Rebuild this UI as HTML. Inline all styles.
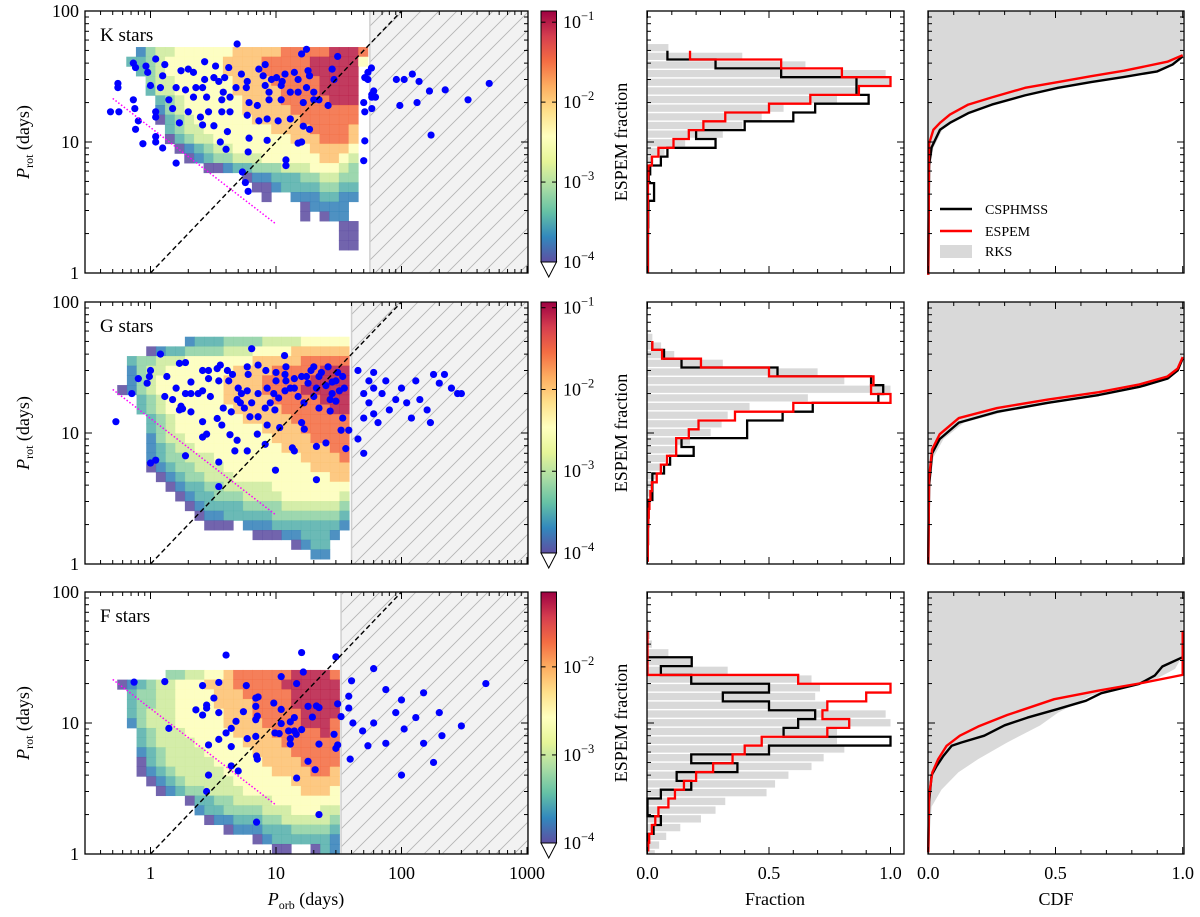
<!DOCTYPE html>
<html><head><meta charset="utf-8"><style>
html,body{margin:0;padding:0;background:#fff;}
svg{display:block;font-family:"Liberation Serif",serif;}
</style></head><body>
<svg id="fig" xmlns="http://www.w3.org/2000/svg" width="1200" height="917" viewBox="0 0 1200 917">
<defs>
<pattern id="hatch" patternUnits="userSpaceOnUse" width="18" height="18">
<rect width="18" height="18" fill="#f2f2f2"/>
<path d="M0,18 L18,0 M-3,3 L3,-3 M15,21 L21,15" stroke="#b5b5b5" stroke-width="0.9"/>
</pattern>
<linearGradient id="cmap" x1="0" y1="1" x2="0" y2="0">
<stop offset="0" stop-color="#5e4fa2"/><stop offset="0.1" stop-color="#3288bd"/><stop offset="0.2" stop-color="#66c2a5"/><stop offset="0.3" stop-color="#abdda4"/><stop offset="0.4" stop-color="#e6f598"/><stop offset="0.5" stop-color="#ffffbf"/><stop offset="0.6" stop-color="#fee08b"/><stop offset="0.7" stop-color="#fdae61"/><stop offset="0.8" stop-color="#f46d43"/><stop offset="0.9" stop-color="#d53e4f"/><stop offset="1" stop-color="#9e0142"/>
</linearGradient>
<clipPath id="clip0"><rect x="85" y="11" width="443" height="262"/></clipPath>
<clipPath id="clip1"><rect x="85" y="302" width="443" height="262"/></clipPath>
<clipPath id="clip2"><rect x="85" y="592" width="443" height="262"/></clipPath>
</defs>
</svg>
<script>
// ---------- data ----------
const starTypes = ["K stars","G stars","F stars"];
const heatK = [
"0245566666677777888889998","3345666666777788888999996","0345666666777788888999990","0045566666677778888899990",
"0035566666677777888899990","0003456666667777888889990","0002456666667777788888880","0001345666666777778888880",
"0000345566666667777888870","0000134556666666677788870","0000012345566666666777760","0000001234455566666677650",
"0000000011233444555666540","0000000000001223334455440","0000000000000112333344330","0000000000000010022233220",
"0000000000000000001222200","0000000000000000001012200","0000000000000000000000110","0000000000000000000000110",
"0000000000000000000000110"];
const heatG = [
"000000023334444555566666","000123344445556666777777","034455566666667777788888","024556666666777788888999",
"024566666667777888889999","124566666667777888899999","003456666667777788888999","003456666666777778888899",
"000345666666677777888888","000345666666666777788888","000245566666666677778888","000234556666666667777788",
"000234455566666666677778","000123445556666666667777","000012344555666666666677","000001233445555566666666",
"000000123344455556666665","000000012333344445555554","000000001223333344444443","000000000111022233333332",
"000000000000001112233320","000000000000000000123300","000000000000000000002200"];
const heatF = [
"00000445566788888899998","12345566677788888999999","03445566667778888899999","03445566667777888899999",
"03455566666777888889999","02455566666777788889998","00345556666677778888898","00345555666667777888888",
"00234555566666777788888","00134555556666677778888","00123455555666667777887","00012345555566666677777",
"00001234455556666667776","00000001334455556666666","00000000233444455566655","00000000012233344555554",
"00000000000122233344443","00000000000000123333332","00000000000000001100132"];
const heatGrids = [heatK, heatG, heatF];
const heatLogX0 = [-0.193, -0.265, -0.265];
const heatLogYTop = [1.725, 1.735, 1.405];
const heatDx = 0.077, heatDy = 0.0738;
const heatCols = [25, 24, 23];
const hatchStart = [56, 40, 33];
const cbMaxLog = [-0.86, -0.93, -1.15];
const cbTickExp = [[-1,-2,-3,-4],[-1,-2,-3,-4],[-2,-3,-4]];

const porbK = [4.9,17.5,16,31,1.1,0.73,0.76,0.92,1.3,2.7,3.3,4.2,8.2,7.3,11.8,14,18,28,0.95,1.25,1.75,2.0,2.2,2.7,3.2,3.5,3.9,5.3,5.9,7.9,9.2,10.1,11.2,15,18.5,29,51,54,54,0.55,0.55,1.0,1.2,1.6,1.9,2.3,2.6,3.8,4.8,5.8,8.2,8.8,11,13,15,17.5,20,22,26,0.73,1.4,2.2,2.8,3.7,4.3,6.1,7.1,8.8,11,16.5,20,58,62,0.48,0.56,0.75,1.1,1.5,2.0,2.5,2.9,3.7,4.3,5.9,7.3,8.5,10.4,13,16.5,18.5,51,58,50,0.8,1.1,1.7,2.6,3.2,4.1,0.76,1.1,0.87,1.1,1.25,3.6,4.0,6.1,8.5,15,16,51,6.0,1.6,12,12,50,5.4,5.7,6.0,57.6,60,58,91,105,122,97,133,167,138,172,223,500,339];
const protK = [56,51,47,45,43,40,37,38,39,41,38,37,39,36,33,34,35,36,34,32,35,36,34,30,31,29,31,33,29,32,30,31,29,30,32,30,31,34,30,28,26,27,26,26,25,26,26,24,26,26,27,24,27,24,24,26,24,21,19,21,21,22,22,21,22,20,19,21,21,20,21,22,22,17,17,18,17,18,17,15.5,17,17,17,16,14.5,15,14.5,15,13.2,12.5,17,18,20,14.5,15.5,14,13.5,13.3,12,12.5,11,9.7,10,9,10,8.8,10.7,10.3,9.8,10,10.2,8.4,6.9,7.3,6.6,7.2,5.9,4.9,4.2,36.7,24.5,23,30,30,33,19,20,24.5,29,11.3,25,28,21];
const porbG = [6.4,11.7,1.2,0.71,0.53,1.7,1.9,1.0,1.35,0.8, 0.94,0.98,1.3,1.6,1.5,1.75,1.8,1.7,2.1,2.1, 1.9,2.1,2.4,2.6,2.6,2.9,2.9,3.0,3.4,3.6, 4.1,3.5,4.2,4.5,5.0,5.3,5.9,4.9,5.2,5.6, 6.2,3.8,4.4,3.4,3.7,2.6,2.6,2.8,4.3,4.9, 4.7,5.9,7.1,8.2,9.9,3.5,3.5,1.9,1.0,1.1, 5.9,6.0,7.2,8.3,10,11.8,12,14,16,17.5, 20,23,31,8.5,9.6,10.5,11.8,14,15,16.7, 20,22,27,27,30,34,38,33,16,16.8, 10.7,8.5,13.5,14,21,25,36,21,7.2,9, 9.8,6.4,8.2,7.2,10,13,21,28,32,45, 50,55,60,55,60,65,70,75,80,90, 100,110,120,130,140,160,180,200,220,250, 280,170,300,60,45,50,50,12,18,25,30,22,35,28,19,26,34];
const protG = [44,39,40,20,12.2,34,34.5,30,27,26, 24,27,19,22,18,16,15.3,15,14.5,24.5, 20,20,20,21,30,30,26,19,31,33, 30,25,25,28,22,20,21,18,17,15.5, 13.3,15.5,14.5,12.9,11.5,12.2,9.3,9.8,9.7,8.8, 7.3,7.3,9.8,8.2,5.2,6,3.9,6.7,5.9,6.2, 32,28,33,30,29,28,32,26,27,27, 32,29,29,22,20,18.5,21,22,19,17, 19,15.5,14.7,18,17.5,13,10.5,10.5,12,10.7, 11,11.5,7.7,7.3,7.9,8.4,7.6,4.4,20,17, 15,17,15.5,13.3,25,22,22,24.5,21,30, 20,25,22,17,14,12,20,25,15,18, 22,17,13,25,18,15,28,24,28,22, 20,12,20,29,9,7,13,25,24,23,25,27,22,20,30,32,27];
const porbF = [4.0,16,30,11,16.5,0.74,1.3,2.6,3.5,5.8, 14.6,3.2,2.8,2.8,2.3,2.6,3.5,4.8,4.4,4.0, 3.5,2.9,4.4,6.9,7.2,6.9,5.5,7.1,6.9,9.6, 11,14,13,11,9.8,10.6,12.6,14,16,14.5, 13,13,18,21,22,19.5,31,33,29,31, 30,22,18,20.5,14.6,7,7.1,5.9,6.9,1.4, 2.9,2.8,4.4,5.0,7,22,40,38,38,41, 39,49,54,60,75,90,100,105,130,150, 150,180,200,210,300,470,60,75,100];
const protF = [33,34.5,32,22.6,24.5,20.5,20.7,19.3,20.4,19.3, 20,15.5,13.7,13,12.6,11.5,12,10.3,9.1,8.4, 7.5,6.8,6.6,15.5,15.8,13.4,12.2,11.3,10.6,14.2, 12.7,11,10.2,9.9,8.4,8.3,8.7,8.7,8.9,8.2, 7.6,6.9,13.4,13.5,13.1,11.1,14,11.2,8.2,6.8, 6.4,6.9,5.1,4.4,3.8,5.6,5.3,7.6,7.9,9.1, 4.0,3.0,4.7,4.3,1.75,2.0,21,16,13,10, 5.3,8.7,6.7,26,18,12,15,9,11,17, 7,5,12,8,9.5,20,10,7,4];
const porbAll = [porbK, porbG, porbF];
const protAll = [protK, protG, protF];

const grayStart = [1.753, 1.763, 1.769];
const grayStep = [0.066, 0.066, 0.0667];
const grayK = [0.086,0.39,0.65,0.98,1.0,0.87,0.78,0.56,0.47,0.39,0.31,0.155,0.07,0.025,0.01,0.005,0.005,0.004,0.003,0.003,0.002,0.002,0.002,0.001,0.001,0.001];
const grayG = [0.02,0.056,0.11,0.31,0.70,0.81,1.0,0.66,0.42,0.33,0.305,0.26,0.175,0.12,0.073,0.052,0.032,0.015,0.01,0.006,0.004,0.003,0.002,0.002,0.001,0.001,0.001];
const grayF = [0.004,0.01,0.018,0.086,0.18,0.33,0.675,0.71,0.69,0.74,0.98,1.0,0.78,0.78,0.81,0.725,0.675,0.58,0.525,0.49,0.32,0.28,0.22,0.135,0.077,0.048,0.03];
const lineStart = [1.697, 1.702, 1.704];
const lineStep = 0.0674;
const blackK = [0.082,0.28,0.55,0.86,0.86,0.91,0.69,0.6,0.4,0.2,0.28,0.082,0.055,0.011,0.005,0.027,0.027,0.004,0.003,0.003,0.002,0.002,0.002,0.002,0.002,0.002];
const redK = [0.175,0.55,0.8,1.0,0.87,0.67,0.5,0.32,0.23,0.17,0.107,0.045,0.018,0.004,0.003,0.002,0.002,0.002,0.002,0.002,0.002,0.001,0.001,0.001,0.001,0.001];
const blackG = [0.02,0.068,0.14,0.535,0.92,0.97,0.95,0.68,0.556,0.41,0.41,0.14,0.19,0.093,0.068,0.02,0.02,0.02,0.005,0.004,0.003,0.002,0.002,0.001,0.001];
const redG = [0.02,0.06,0.22,0.5,0.93,0.92,1.0,0.6,0.36,0.21,0.17,0.118,0.118,0.08,0.055,0.038,0.018,0.012,0.008,0.005,0.003,0.002,0.002,0.001,0.001];
const blackF = [null,null,null,0.182,0.055,0.18,0.5,0.31,0.5,0.69,0.62,0.56,1.0,0.5,0.18,0.37,0.12,0.18,0.055,0,0,0.055,0.025,0,0];
const redF = [0,0,0,0,0,0.62,1.0,0.9,0.74,0.72,0.83,0.74,0.47,0.4,0.35,0.27,0.2,0.15,0.113,0.086,0.045,0.032,0.018,0.007,0.003];
const grayAll = [grayK, grayG, grayF];
const blackAll = [blackK, blackG, blackF];
const redAll = [redK, redG, redF];

const cdfBlackPK = [0.97,6.7,9.1,12.4,14,16.6,19.3,22.7,25.9,28.7,31.4,34.6,39,45];
const cdfBlackCK = [0,0.003,0.013,0.046,0.085,0.157,0.25,0.38,0.51,0.64,0.77,0.9,0.96,1];
const cdfRedPK = [0.97,9.7,12.4,14,16.2,19.3,21.9,25.9,28.7,31.8,35,41,46];
const cdfRedCK = [0,0.003,0.02,0.046,0.085,0.157,0.25,0.38,0.51,0.64,0.77,0.94,1];
const cdfGrayPK = [0.97,6,9,12.4,14.3,16.8,19.5,22.8,26,28.8,31.6,34.5,39,45];
const cdfGrayCK = [0,0.005,0.02,0.055,0.1,0.17,0.26,0.39,0.52,0.65,0.78,0.9,0.96,1];
const cdfBlackPG = [1,4,7,9,12,14.5,17,19.5,22.5,26,30,37];
const cdfBlackCG = [0,0.003,0.015,0.045,0.12,0.27,0.47,0.67,0.83,0.94,0.98,1];
const cdfRedPG = [1,4.5,7.5,9.8,13,15.5,18,20.5,23.5,27,31,38];
const cdfRedCG = [0,0.003,0.015,0.045,0.12,0.27,0.47,0.67,0.83,0.94,0.98,1];
const cdfGrayPG = [1,3.5,6.5,9,12,14.5,17,19.5,22.5,26,36];
const cdfGrayCG = [0,0.005,0.02,0.06,0.14,0.3,0.5,0.7,0.85,0.95,1];
const cdfBlackPF = [1.03,2.5,4.0,4.7,5.6,6.7,7.1,8,9.6,11,12.8,14.8,16.9,19.9,23,27,31.8];
const cdfBlackCF = [0,0.003,0.013,0.033,0.059,0.092,0.13,0.22,0.30,0.39,0.51,0.62,0.68,0.83,0.89,0.92,1];
const cdfRedPF = [1.03,2.8,4.2,5.3,6.7,8,9.4,11.5,15.2,17.7,20.2,23.3,50.7];
const cdfRedCF = [0,0.003,0.016,0.039,0.072,0.124,0.196,0.31,0.495,0.67,0.84,1,1];
const cdfGrayPF = [1.03,2.3,3.1,4.2,5.3,7.1,9.6,12,16.2,19.2,21.9,25.9,32.7];
const cdfGrayCF = [0,0.013,0.052,0.118,0.196,0.31,0.44,0.51,0.64,0.8,0.9,0.97,1];
const cdfSets = [
 {gp:cdfGrayPK,gc:cdfGrayCK,bp:cdfBlackPK,bc:cdfBlackCK,rp:cdfRedPK,rc:cdfRedCK},
 {gp:cdfGrayPG,gc:cdfGrayCG,bp:cdfBlackPG,bc:cdfBlackCG,rp:cdfRedPG,rc:cdfRedCG},
 {gp:cdfGrayPF,gc:cdfGrayCF,bp:cdfBlackPF,bc:cdfBlackCF,rp:cdfRedPF,rc:cdfRedCF}];

const xTickLeft = ["1","10","100","1000"];
const xTickLeftVals = [1,10,100,1000];
const yTickVals = [1,10,100];
const fracTicks = ["0.0","0.5","1.0"];
const fracTickVals = [0,0.5,1];

// ---------- axes ----------
const NS = "http://www.w3.org/2000/svg";
const svg = document.getElementById("fig");
const rowTop = [11,302,592], rowBot = [273,564,854];
const LX0 = 85, LX1 = 528, MX0 = 647, MX1 = 904, RX0 = 928, RX1 = 1184;
function lx(v){ return 150.5 + 125.5*Math.log10(v); }
function ly(r,v){ return rowTop[r] + 131*(2 - Math.log10(v)); }
function mx(f){ return 647.5 + 243*f; }
function cx(c){ return 928.3 + 254.4*c; }
function mk(tag, parent){ const e = document.createElementNS(NS, tag); (parent||svg).appendChild(e); return e; }
const spectral = ["#5e4fa2","#3288bd","#66c2a5","#abdda4","#e6f598","#ffffbf","#fee08b","#fdae61","#f46d43","#d53e4f","#9e0142"];
function cmapColor(t){
  t = Math.max(0, Math.min(1, t)) * 10; const i = Math.min(9, Math.floor(t)), f = t - i;
  const a = spectral[i], b = spectral[i+1];
  const p = k => parseInt(a.substr(k,2),16)*(1-f) + parseInt(b.substr(k,2),16)*f;
  return "rgb(" + Math.round(p(1)) + "," + Math.round(p(3)) + "," + Math.round(p(5)) + ")";
}
const levelPos = [0,0,0.09,0.17,0.26,0.36,0.49,0.66,0.8,0.95];

function addTick(parent, x1,y1,x2,y2, name){
  const t = mk("line", parent);
  t.setAttribute("x1",x1); t.setAttribute("y1",y1); t.setAttribute("x2",x2); t.setAttribute("y2",y2);
  t.setAttribute("stroke","#000"); t.setAttribute("stroke-width","1");
  
  
}
function addText(parent, x, y, str, size, anchor, name){
  const t = mk("text", parent);
  t.setAttribute("x",x); t.setAttribute("y",y); t.setAttribute("font-size",size);
  t.setAttribute("text-anchor",anchor||"middle"); t.textContent = str;
  
  
  return t;
}
function logYTicks(parent, r, xl, xr, name){
  for (let d = 1; d <= 10; d *= 10) for (let m = 1; m <= 9; m++) {
    const v = d*m; if (v > 100) continue;
    const y = ly(r, v), len = (m === 1) ? 7 : 4;
    addTick(parent, xl, y, xl+len, y, name);
    addTick(parent, xr, y, xr-len, y, name);
  }
  const y = ly(r,100); addTick(parent, xl, y, xl+7, y, name); addTick(parent, xr, y, xr-7, y, name);
}
function fracXTicks(parent, r, xf, name){
  for (let i = 0; i <= 10; i++) {
    const x = xf(i/10), len = (i % 5 === 0) ? 7 : 4;
    addTick(parent, x, rowBot[r], x, rowBot[r]-len, name);
    addTick(parent, x, rowTop[r], x, rowTop[r]+len, name);
  }
}
function frame(parent, x0, r, x1, name){
  const f = mk("rect", parent);
  f.setAttribute("x",x0); f.setAttribute("y",rowTop[r]); f.setAttribute("width",x1-x0); f.setAttribute("height",rowBot[r]-rowTop[r]);
  f.setAttribute("fill","none"); f.setAttribute("stroke","#000"); f.setAttribute("stroke-width","1.3");
  
  
}
function stepPath(vals, start, step, r){
  let d = "", started = false;
  for (let k = 0; k < vals.length; k++) {
    const v = vals[k]; if (v === null) continue;
    const yT = ly(r, Math.pow(10, start - k*step)), yB = ly(r, Math.pow(10, start - (k+1)*step));
    const x = mx(v);
    if (!started) { d += "M" + mx(0) + "," + yT + " L" + x + "," + yT; if (k === 0) d = "M" + x + "," + yT; started = true; }
    else d += " L" + x + "," + yT;
    d += " L" + x + "," + Math.min(yB, rowBot[r]);
  }
  return d;
}
function cdfPts(P, C, r){ return P.map((p,i) => cx(C[i]) + "," + ly(r,p)); }

for (let r = 0; r < 3; r++) {
  const tag = ["k","g","f"][r];
  const gL = mk("g");
  
  
  const inner = mk("g", gL);
  inner.setAttribute("clip-path", "url(#clip" + r + ")");
  
  
  const grid = heatGrids[r];
  for (let i = 0; i < grid.length; i++) for (let j = 0; j < Math.min(heatCols[r], grid[i].length); j++) {
    const L = +grid[i][j]; if (!L) continue;
    const xa = lx(Math.pow(10, heatLogX0[r] + j*heatDx)), xb = lx(Math.pow(10, heatLogX0[r] + (j+1)*heatDx));
    const ya = ly(r, Math.pow(10, heatLogYTop[r] - i*heatDy)), yb = ly(r, Math.pow(10, heatLogYTop[r] - (i+1)*heatDy));
    const c = mk("rect", inner);
    c.setAttribute("x", xa); c.setAttribute("y", ya); c.setAttribute("width", xb-xa+0.4); c.setAttribute("height", yb-ya+0.4);
    c.setAttribute("fill", cmapColor(levelPos[L])); c.setAttribute("fill-opacity","0.88");
    
    
  }
  const h = mk("rect", inner);
  h.setAttribute("x", lx(hatchStart[r])); h.setAttribute("y", rowTop[r]); h.setAttribute("width", LX1 - lx(hatchStart[r])); h.setAttribute("height", rowBot[r]-rowTop[r]);
  h.setAttribute("fill","url(#hatch)"); h.setAttribute("stroke","#cfcfcf"); h.setAttribute("stroke-width","1.5");
  
  
  const P = porbAll[r], Q = protAll[r];
  for (let i = 0; i < P.length; i++) {
    const d = mk("circle", inner);
    d.setAttribute("cx", lx(P[i])); d.setAttribute("cy", ly(r, Q[i])); d.setAttribute("r", "3.6"); d.setAttribute("fill", "#0000ff");
    
    
  }
  const dl = mk("line", inner);
  dl.setAttribute("x1", lx(1)); dl.setAttribute("y1", ly(r,1)); dl.setAttribute("x2", lx(100)); dl.setAttribute("y2", ly(r,100));
  dl.setAttribute("stroke","#000"); dl.setAttribute("stroke-width","1.4"); dl.setAttribute("stroke-dasharray","5,3");
  
  
  const ml = mk("line", inner);
  ml.setAttribute("x1", lx(0.5)); ml.setAttribute("y1", ly(r,21.5)); ml.setAttribute("x2", lx(9.8)); ml.setAttribute("y2", ly(r,2.4));
  ml.setAttribute("stroke","#ff00ff"); ml.setAttribute("stroke-width","1.5"); ml.setAttribute("stroke-dasharray","1.5,2");
  
  
  frame(gL, LX0, r, LX1, tag + '-left-frame');
  logYTicks(gL, r, LX0, LX1, 'y-tick');
  for (let d = 0.1; d <= 100; d *= 10) for (let m = 1; m <= 9; m++) {
    const v = d*m; const x = lx(v); if (x < LX0 || x > LX1) continue;
    const len = (m === 1) ? 7 : 4;
    addTick(gL, x, rowBot[r], x, rowBot[r]-len, 'x-tick'); addTick(gL, x, rowTop[r], x, rowTop[r]+len, 'x-tick');
  }
  addTick(gL, lx(1000), rowBot[r], lx(1000), rowBot[r]-7, 'x-tick');
  yTickVals.forEach((v) => addText(gL, 79, ly(r,v)+6, String(v), 18, "end", 'y-tick-label'));
  addText(gL, 100, rowTop[r]+30, starTypes[r], 19, "start", tag + '-panel-title');
  const yl = addText(gL, 0, 0, "", 18, "middle", 'y-axis-title');
  yl.setAttribute("transform", "translate(29," + ((rowTop[r]+rowBot[r])/2) + ") rotate(-90)");
  yl.innerHTML = '<tspan font-style="italic">P</tspan><tspan font-size="12" dy="4">rot</tspan><tspan dy="-4"> (days)</tspan>';
  const cbTop = rowTop[r], cbBot = rowBot[r] - 11;
  const cb = mk("rect", gL);
  cb.setAttribute("x",541); cb.setAttribute("y",cbTop); cb.setAttribute("width",15.5); cb.setAttribute("height",cbBot-cbTop);
  cb.setAttribute("fill","url(#cmap)"); cb.setAttribute("stroke","#000"); cb.setAttribute("stroke-width","1");
  
  
  const tri = mk("polygon", gL);
  tri.setAttribute("points", "541," + cbBot + " 556.5," + cbBot + " 548.75," + (cbBot+15));
  tri.setAttribute("fill","#fff"); tri.setAttribute("stroke","#000"); tri.setAttribute("stroke-width","1");
  
  
  cbTickExp[r].forEach((e) => {
    const y = cbBot - (e + 4) / (cbMaxLog[r] + 4) * (cbBot - cbTop);
    addTick(gL, 556.5, y, 552, y, 'colorbar-tick'); addTick(gL, 541, y, 545.5, y, 'colorbar-tick');
    const t = addText(gL, 563, y+6, "", 18, "start", 'colorbar-tick-label');
    t.innerHTML = '10<tspan font-size="12.5" dy="-8">\u2212' + (-e) + '</tspan>';
  });
  const gM = mk("g");
  
  
  const gv = grayAll[r];
  for (let k = 0; k < gv.length; k++) {
    const yT = ly(r, Math.pow(10, grayStart[r] - k*grayStep[r])), yB = ly(r, Math.pow(10, grayStart[r] - (k+1)*grayStep[r]));
    if (yT >= rowBot[r]) continue;
    const b = mk("rect", gM);
    b.setAttribute("x", mx(0)); b.setAttribute("y", yT+0.7); b.setAttribute("width", mx(gv[k]) - mx(0)); b.setAttribute("height", Math.max(0, Math.min(yB, rowBot[r]) - yT - 1.4));
    b.setAttribute("fill", "#d9d9d9");
    
    
  }
  [["black", blackAll[r], "csphmss-histogram"], ["#ff0000", redAll[r], "espem-histogram"]].forEach((s) => {
    const p = mk("path", gM);
    p.setAttribute("d", stepPath(s[1], lineStart[r], lineStep, r));
    p.setAttribute("fill","none"); p.setAttribute("stroke", s[0]); p.setAttribute("stroke-width","2.3");
    
    
  });
  frame(gM, MX0, r, MX1, tag + '-middle-frame');
  logYTicks(gM, r, MX0, MX1, 'y-tick');
  fracXTicks(gM, r, mx, 'x-tick');
  const ml2 = addText(gM, 0, 0, "ESPEM fraction", 18, "middle", 'y-axis-title');
  ml2.setAttribute("transform", "translate(627," + ((rowTop[r]+rowBot[r])/2) + ") rotate(-90)");
  const gR = mk("g");
  
  
  const cs = cdfSets[r];
  const fill = mk("polygon", gR);
  fill.setAttribute("points", cdfPts(cs.gp, cs.gc, r).join(" ") + " " + cx(1) + "," + rowTop[r] + " " + cx(0) + "," + rowTop[r] + " " + cx(0) + "," + rowBot[r]);
  fill.setAttribute("fill", "#d9d9d9");
  
  
  [["#000", cs.bp, cs.bc, "csphmss-cdf"], ["#ff0000", cs.rp, cs.rc, "espem-cdf"]].forEach((s) => {
    const pl = mk("polyline", gR);
    pl.setAttribute("points", cdfPts(s[1], s[2], r).join(" "));
    pl.setAttribute("fill","none"); pl.setAttribute("stroke", s[0]); pl.setAttribute("stroke-width","2.4"); pl.setAttribute("stroke-linejoin","round");
    
    
  });
  frame(gR, RX0, r, RX1, tag + '-right-frame');
  logYTicks(gR, r, RX0, RX1, 'y-tick');
  fracXTicks(gR, r, cx, 'x-tick');
}
fracTickVals.forEach((v,i) => {
  addText(svg, mx(v), 879, fracTicks[i], 18, "middle", 'fraction-tick-label');
  addText(svg, cx(v), 879, fracTicks[i], 18, "middle", 'cdf-tick-label');
});
xTickLeftVals.forEach((v,i) => addText(svg, lx(v), 879, xTickLeft[i], 18, "middle", 'x-tick-label'));
const xl = addText(svg, 306, 905, "", 18, "middle", 'x-axis-title');
xl.innerHTML = '<tspan font-style="italic">P</tspan><tspan font-size="12" dy="4">orb</tspan><tspan dy="-4"> (days)</tspan>';
addText(svg, 775, 905, "Fraction", 18, "middle", 'fraction-axis-title');
addText(svg, 1056, 905, "CDF", 18, "middle", 'cdf-axis-title');
const lg = mk("g");


[["#000","CSPHMSS",209],["#ff0000","ESPEM",231]].forEach((e) => {
  const l = mk("line", lg);
  l.setAttribute("x1",940); l.setAttribute("x2",972); l.setAttribute("y1",e[2]); l.setAttribute("y2",e[2]);
  l.setAttribute("stroke",e[0]); l.setAttribute("stroke-width","2.6");
  
  
  addText(lg, 985, e[2]+5, e[1], 14, "start", 'legend-entry');
});
const lr = mk("rect", lg);
lr.setAttribute("x",940); lr.setAttribute("y",245); lr.setAttribute("width",32); lr.setAttribute("height",13); lr.setAttribute("fill","#d9d9d9");


addText(lg, 985, 256, "RKS", 14, "start", 'legend-entry');
</script>
</body></html>
